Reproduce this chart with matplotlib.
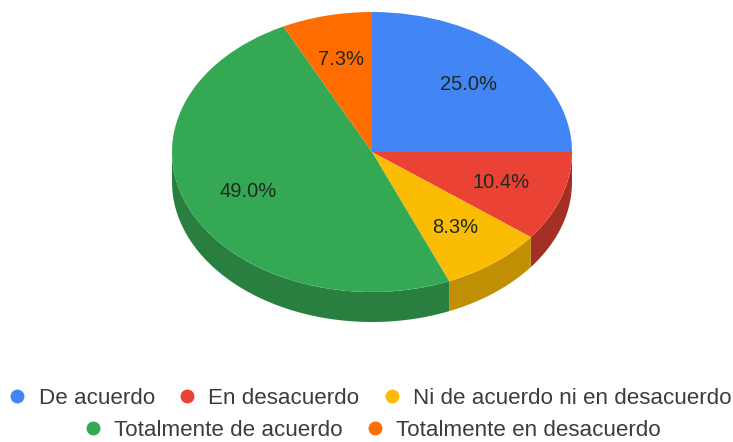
import numpy as np
import matplotlib
matplotlib.use("Agg")
import matplotlib.pyplot as plt
from matplotlib.lines import Line2D
from matplotlib.patches import Polygon

labels = ["De acuerdo", "En desacuerdo", "Ni de acuerdo ni en desacuerdo",
          "Totalmente de acuerdo", "Totalmente en desacuerdo"]
values = [25.0, 10.4, 8.3, 49.0, 7.3]
colors = ["#4285f4", "#ea4335", "#fbbc04", "#34a853", "#ff6d01"]
side_colors = ["#2f5dab", "#a42f25", "#c08f03", "#287f3f", "#b34c01"]

W, H = 733, 442
CX, CY, RX, RY, DEPTH = 372, 152, 200, 140, 30

plt.rcParams["font.family"] = ["Liberation Sans", "DejaVu Sans"]

fig = plt.figure(figsize=(W / 100, H / 100), dpi=100)
ax = fig.add_axes([0, 0, 1, 1])

wedges, _ = ax.pie(values, colors=colors, startangle=90, counterclock=False, radius=1,
                   wedgeprops={"linewidth": 0})
ax.set_aspect("auto")
ax.set_xlim(-CX / RX, (W - CX) / RX)
ax.set_ylim(-(H - CY) / RY, CY / RY)
ax.axis("off")

# side wall of the tilted pie, only the front half shows
d = DEPTH / RY
edges = 90 - np.cumsum([0] + values) * 3.6
for i in range(len(values)):
    a0, a1 = edges[i], edges[i + 1]
    lo, hi = max(a1, -180), min(a0, 0)
    if hi <= lo:
        continue
    t = np.radians(np.linspace(hi, lo, 80))
    top = np.column_stack([np.cos(t), np.sin(t)])
    bottom = top[::-1] - [0, d]
    ax.add_patch(Polygon(np.vstack([top, bottom]), closed=True,
                         facecolor=side_colors[i], edgecolor="none", zorder=0.5))

# slice labels in the middle of each wedge
for i, v in enumerate(values):
    mid = np.radians((edges[i] + edges[i + 1]) / 2)
    ax.text(0.68 * np.cos(mid), 0.68 * np.sin(mid), f"{v:.1f}%", ha="center", va="center",
            fontsize=14.5, color="#1f2a1f")


def legend_row(idx, y, x):
    handles = [Line2D([], [], marker="o", linestyle="none", markersize=10,
                      markerfacecolor=colors[i], markeredgecolor="none") for i in idx]
    return fig.legend(handles, [labels[i] for i in idx], loc="center",
                      bbox_to_anchor=(x / W, 1 - y / H), ncol=len(idx), frameon=False,
                      fontsize=16.15, labelcolor="#3c3c3c", handletextpad=0.44,
                      columnspacing=0.95, borderpad=0, borderaxespad=0, handlelength=1.0)


legend_row([0, 1, 2], 398, 369)
legend_row([3, 4], 430, 371)

fig.savefig("out.png", dpi=100)
